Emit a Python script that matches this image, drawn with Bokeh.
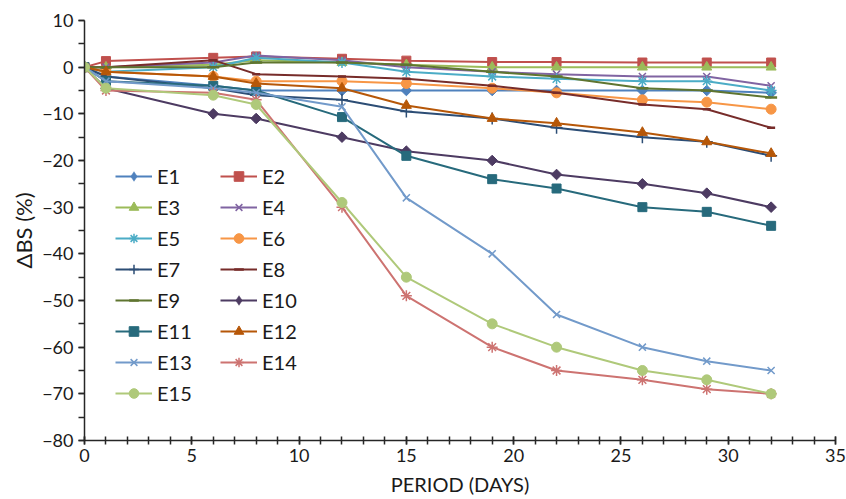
import math
from bokeh.plotting import figure
from bokeh.models import Range1d, SingleIntervalTicker, Legend, LegendItem, ColumnDataSource
from bokeh.embed import file_html
from bokeh.resources import INLINE

days = [0, 1, 6, 8, 12, 15, 19, 22, 26, 29, 32]

E1 = [0, -2, -4, -5, -5, -5, -5, -5, -5, -5, -5.5]
E2 = [0, 1.3, 2, 2.3, 1.8, 1.4, 1.1, 1.1, 1, 1, 1]
E3 = [0, 0, 0.5, 1.5, 1, 0.5, 0, 0, 0, 0, 0]
E4 = [0, 0, 1, 2.5, 1.5, 0, -1, -1.5, -2, -2, -4]
E5 = [0, -1, 0, 2, 1, -1, -2, -2.5, -3, -3, -5]
E6 = [0, -1, -2, -3, -3, -3.5, -4.5, -5.5, -7, -7.5, -9]
E7 = [0, -2, -4.5, -6, -7, -9.5, -11, -13, -15, -16, -19]
E8 = [0, 0, 1.5, -1.5, -2, -2.5, -4, -5.5, -8, -9, -13]
E9 = [0, 0, 0, 1, 1, 0.5, -1, -2, -4.5, -5, -6.5]
E10 = [0, -4.5, -10, -11, -15, -18, -20, -23, -25, -27, -30]
E11 = [0, -3, -4, -5, -10.7, -19, -24, -26, -30, -31, -34]
E12 = [0, -1, -2, -3.5, -4.5, -8.2, -11, -12, -14, -16, -18.5]
E13 = [0, -3, -4.5, -5.5, -8.5, -28, -40, -53, -60, -63, -65]
E14 = [0, -5, -5.5, -7, -30, -49, -60, -65, -67, -69, -70]
E15 = [0, -4.5, -6, -8, -29, -45, -55, -60, -65, -67, -70]

names = ["E%d" % i for i in range(1, 16)]
series = [E1, E2, E3, E4, E5, E6, E7, E8, E9, E10, E11, E12, E13, E14, E15]
colors = ["#4F81BD", "#C0504D", "#9BBB59", "#8064A2", "#4BACC6", "#F79646",
          "#2C4D75", "#772C2A", "#5F7530", "#4D3B62", "#276A7C", "#B65708",
          "#729ACA", "#CD7371", "#AFC97A"]
# marker, size, marker line width
markers = [("diamond", 7.5, 1), ("square", 9, 1), ("triangle", 10, 1),
           ("x", 10, 1.5), ("asterisk", 11, 1.5), ("circle", 10, 1),
           ("cross", 12, 1.5), ("dash", 8, 2.5), ("dash", 12, 2.5),
           ("diamond", 7.5, 1), ("square", 9, 1), ("triangle", 10, 1),
           ("x", 10, 1.5), ("asterisk", 11, 1.5), ("circle", 10, 1)]

FONT = "Lato"

p = figure(width=846, height=499, output_backend="svg", toolbar_location=None,
           x_range=Range1d(0, 35), y_range=Range1d(-80, 10),
           min_border_left=84, min_border_right=11, min_border_top=20, min_border_bottom=59)
p.outline_line_color = None
p.xgrid.visible = False
p.ygrid.visible = False
p.background_fill_color = "white"

items = []
for name, ys, col, (mk, sz, mlw) in zip(names, series, colors, markers):
    src = ColumnDataSource(dict(x=days, y=ys))
    lr = p.line("x", "y", source=src, line_color=col, line_width=2)
    if mk == "diamond":
        # narrow diamond used for the legend glyph; hidden under the square-diamond below
        lg_r = p.scatter("x", "y", source=src, marker="diamond", size=9,
                         fill_color=col, line_color=col, line_width=0.5)
        p.scatter("x", "y", source=src, marker="square", size=sz, angle=math.pi / 4,
                  fill_color=col, line_color=col, line_width=mlw)
        items.append(LegendItem(label=name, renderers=[lr, lg_r]))
    else:
        sr = p.scatter("x", "y", source=src, marker=mk, size=sz, fill_color=col,
                       line_color=col, line_width=mlw)
        items.append(LegendItem(label=name, renderers=[lr, sr]))


def make_legend(its, loc):
    return Legend(items=its, location=loc, orientation="vertical",
                  glyph_width=37, glyph_height=24, spacing=7, padding=0, margin=0,
                  label_standoff=5, label_text_font=FONT, label_text_font_size="20px",
                  label_text_color="#1a1a1a", border_line_alpha=0,
                  background_fill_alpha=0)


p.add_layout(make_legend(items[0::2], (31, 35)), "center")
p.add_layout(make_legend(items[1::2], (136, 66)), "center")

for ax in (p.xaxis[0], p.yaxis[0]):
    ax.axis_line_color = "#262626"
    ax.axis_line_width = 1.5
    ax.major_tick_line_color = "#262626"
    ax.minor_tick_line_color = "#262626"
    ax.major_tick_line_width = 1.5
    ax.minor_tick_line_width = 1.5
    ax.major_label_text_font = FONT
    ax.major_label_text_font_size = "18px"
    ax.major_label_text_color = "#1a1a1a"
    ax.axis_label_text_font = FONT
    ax.axis_label_text_font_size = "20px"
    ax.axis_label_text_font_style = "normal"
    ax.axis_label_text_color = "#1a1a1a"

p.xaxis.ticker = SingleIntervalTicker(interval=5, num_minor_ticks=5)
p.xaxis.major_tick_in = 4
p.xaxis.major_tick_out = 4
p.xaxis.minor_tick_in = 4
p.xaxis.minor_tick_out = 4
p.xaxis.major_label_standoff = 4
p.xaxis.axis_label = "PERIOD (DAYS)"
p.xaxis.axis_label_standoff = 7

p.yaxis.ticker = SingleIntervalTicker(interval=10, num_minor_ticks=2)
p.yaxis.major_tick_in = 0
p.yaxis.major_tick_out = 6
p.yaxis.minor_tick_in = 0
p.yaxis.minor_tick_out = 6
p.yaxis.major_label_standoff = 5
p.yaxis.axis_label = "ΔBS (%)"
p.yaxis.axis_label_text_font_size = "22px"
p.yaxis.axis_label_standoff = 2

open("out.html", "w").write(file_html(p, INLINE))
